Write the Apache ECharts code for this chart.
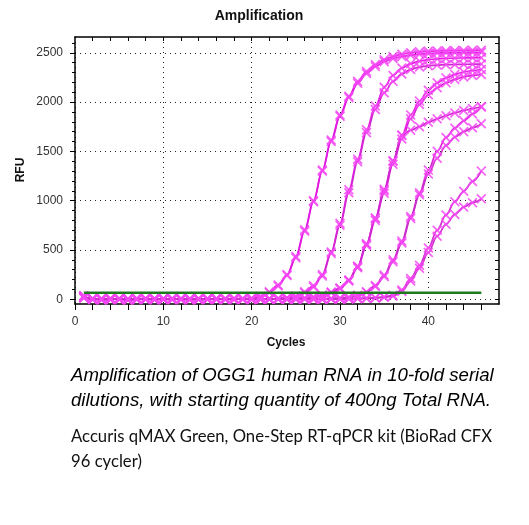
<!DOCTYPE html>
<html>
<head>
<meta charset="utf-8">
<script src="https://cdn.jsdelivr.net/npm/echarts@6/dist/echarts.min.js"></script>
<style>
html,body{margin:0;padding:0;background:#fff;}
#chart{width:529px;height:525px;}
</style>
</head>
<body>
<div id="chart"></div>
<script>
// ---- data ----
var cycles = [1,2,3,4,5,6,7,8,9,10,11,12,13,14,15,16,17,18,19,20,21,22,23,24,25,26,27,28,29,30,31,32,33,34,35,36,37,38,39,40,41,42,43,44,45,46];

var rfuA1 = [12,5,-3,8,2,-6,4,9,-2,3,7,-4,1,6,-1,5,3,8,6,
  12,30,75,145,250,435,705,1000,1310,1615,1870,2060,2210,2310,2380,2430,2462,2485,2500,2510,2515,2518,2520,2522,2523,2525,2526];
var rfuA2 = [28,3,-5,2,6,-2,1,4,-6,2,5,0,-3,4,2,-1,6,3,2,
  8,25,68,135,240,420,690,990,1300,1600,1855,2045,2190,2290,2360,2410,2442,2462,2476,2486,2493,2497,2500,2502,2503,2504,2505];
var rfuB1 = [20,4,-2,6,1,-7,3,8,-1,2,6,-3,0,5,-2,4,2,7,-1,3,5,2,9,16,
  32,75,138,250,480,770,1110,1420,1720,1960,2150,2270,2345,2390,2415,2430,2438,2443,2446,2448,2449,2450];
var rfuB2 = [30,-3,5,0,7,2,-4,3,6,-2,1,4,7,-1,3,0,5,-3,4,1,6,3,8,14,
  28,65,125,235,465,750,1080,1395,1690,1925,2095,2210,2285,2330,2355,2368,2375,2379,2381,2383,2384,2385];
var rfuC1 = [22,6,0,-4,5,3,8,-2,1,6,-5,3,2,7,0,-3,4,6,1,-2,5,3,0,6,9,14,24,
  40,70,115,195,335,560,820,1100,1400,1660,1870,2010,2120,2195,2245,2280,2305,2320,2330];
var rfuC2 = [35,2,-6,4,0,5,-1,3,7,-3,2,4,-2,1,6,3,-4,2,5,0,3,7,1,4,8,12,20,
  35,65,105,185,320,545,800,1075,1370,1625,1830,1975,2075,2145,2195,2230,2255,2270,2280];
var rfuC3 = [18,7,1,-3,4,-5,2,6,0,3,-2,5,1,-4,3,6,0,4,-1,2,6,1,4,2,7,11,22,
  40,72,112,192,332,562,825,1115,1405,1665,1715,1750,1795,1830,1862,1890,1915,1935,1955];
var rfuD1 = [25,3,-4,6,2,-1,5,0,-5,4,2,7,-2,1,3,-3,5,2,0,6,-1,3,4,-2,5,1,3,6,8,12,22,
  40,75,140,245,400,590,840,1080,1310,1500,1640,1735,1810,1880,1950];
var rfuD2 = [32,-2,4,1,-6,3,7,2,-1,5,0,3,6,-3,2,4,1,-2,5,3,0,4,6,-1,2,5,3,1,7,10,18,
  35,70,130,230,380,570,820,1060,1270,1430,1560,1645,1700,1740,1780];
var rfuE1 = [15,5,-3,2,7,-4,1,4,-2,6,3,0,-5,2,5,1,-1,4,6,-3,2,0,5,3,-2,4,1,6,2,5,3,8,10,15,24,
  40,95,210,345,520,700,855,990,1095,1195,1300];
var rfuE2 = [27,0,6,-2,3,1,-4,5,2,-1,4,7,0,-3,1,6,3,-2,4,1,5,-1,2,6,0,3,5,-2,4,1,6,7,11,14,20,
  32,80,185,315,475,640,760,860,935,980,1020];

var thresholdCycles = [1, 46];
var thresholdRFU = [67, 67];

var xMajorTicks = [0,10,20,30,40];
var xMinorTicks = [2,4,6,8,10,12,14,16,18,20,22,24,26,28,30,32,34,36,38,40,42,44,46];
var yMajorTicks = [0,500,1000,1500,2000,2500];
var yMinorTicks = [0,100,200,300,400,500,600,700,800,900,1000,1100,1200,1300,1400,1500,1600,1700,1800,1900,2000,2100,2200,2300,2400,2500,2600];

var allSeries = [rfuA1, rfuA2, rfuB1, rfuB2, rfuC1, rfuC2, rfuC3, rfuD1, rfuD2, rfuE1, rfuE2];
var lineTones = ['#e81ee8','#e01ae0','#e81ee8','#d028d0','#e81ee8','#d820d8','#d028d0','#d820d8','#c830c8','#d030d0','#c830c8'];

// ---- chart ----
var FONT = '"Liberation Sans", Arial, sans-serif';
var xPath = 'path://M0,1.2L1.2,0L5,3.8L8.8,0L10,1.2L6.2,5L10,8.8L8.8,10L5,6.2L1.2,10L0,8.8L3.8,5Z';

function pairs(vals){ return cycles.map(function(c,i){ return [c, vals[i]]; }); }

var series = allSeries.map(function(vals, k){
  return {
    type: 'line',
    xAxisIndex: 0, yAxisIndex: 0,
    data: pairs(vals),
    symbol: xPath,
    symbolSize: 10,
    showSymbol: true,
    smooth: 0.35,
    smoothMonotone: 'x',
    lineStyle: { color: lineTones[k], width: 1.7 },
    itemStyle: { color: 'rgba(245,70,245,0.85)' },
    emphasis: { disabled: true },
    silent: true,
    z: 2
  };
});
series.push({
  type: 'line',
  xAxisIndex: 0, yAxisIndex: 0,
  data: thresholdCycles.map(function(c,i){ return [c, thresholdRFU[i]]; }),
  symbol: 'none',
  lineStyle: { color: '#1f7a1f', width: 2.5 },
  silent: true,
  z: 5
});

var blackLine = { show: true, onZero: false, lineStyle: { color: '#000', width: 1.5 } };
var noLine = { show: false, onZero: false };
var gridDots = { show: true, lineStyle: { color: '#222', width: 1, type: [1, 4] } };
function plainNum(v){ return String(v); }

var option = {
  animation: false,
  backgroundColor: '#fff',
  grid: { left: 75, right: 30, top: 37, bottom: 221, containLabel: false },
  xAxis: [
    { type: 'value', position: 'bottom', min: 0, max: 48,
      axisLine: blackLine,
      axisTick: { show: true, inside: false, length: 6, customValues: xMajorTicks, lineStyle: { color: '#000' } },
      axisLabel: { show: true, customValues: xMajorTicks, formatter: plainNum, margin: 12, fontSize: 12, color: '#333', fontFamily: FONT },
      splitLine: gridDots },
    { type: 'value', position: 'bottom', min: 0, max: 48,
      axisLine: noLine,
      axisTick: { show: true, inside: false, length: 6, customValues: xMinorTicks, lineStyle: { color: '#000' } },
      axisLabel: { show: false }, splitLine: { show: false } },
    { type: 'value', position: 'top', min: 0, max: 48,
      axisLine: blackLine,
      axisTick: { show: true, inside: true, length: 4, customValues: xMinorTicks, lineStyle: { color: '#000' } },
      axisLabel: { show: false }, splitLine: { show: false } }
  ],
  yAxis: [
    { type: 'value', position: 'left', min: -48, max: 2660,
      axisLine: blackLine,
      axisTick: { show: true, inside: false, length: 5, customValues: yMajorTicks, lineStyle: { color: '#000' } },
      axisLabel: { show: true, customValues: yMajorTicks, formatter: plainNum, margin: 12, fontSize: 12, color: '#333', fontFamily: FONT },
      splitLine: gridDots },
    { type: 'value', position: 'left', min: -48, max: 2660,
      axisLine: noLine,
      axisTick: { show: true, inside: false, length: 3, customValues: yMinorTicks, lineStyle: { color: '#000' } },
      axisLabel: { show: false }, splitLine: { show: false } },
    { type: 'value', position: 'right', min: -48, max: 2660,
      axisLine: blackLine,
      axisTick: { show: true, inside: true, length: 4, customValues: yMinorTicks, lineStyle: { color: '#000' } },
      axisLabel: { show: false }, splitLine: { show: false } }
  ],
  graphic: [
    { type: 'text', x: 259, y: 16, style: { text: 'Amplification', font: 'bold 14px ' + FONT, fill: '#111', textAlign: 'center', textVerticalAlign: 'middle' } },
    { type: 'text', x: 21, y: 170, rotation: Math.PI / 2, style: { text: 'RFU', font: 'bold 12px ' + FONT, fill: '#111', textAlign: 'center', textVerticalAlign: 'middle' } },
    { type: 'text', x: 286, y: 343, style: { text: 'Cycles', font: 'bold 12px ' + FONT, fill: '#111', textAlign: 'center', textVerticalAlign: 'middle' } },
    { type: 'text', x: 71, y: 376, style: { text: 'Amplification of OGG1 human RNA in 10-fold serial', font: 'italic 18.6px ' + FONT, fill: '#000', textAlign: 'left', textVerticalAlign: 'middle' } },
    { type: 'text', x: 71, y: 401, style: { text: 'dilutions, with starting quantity of 400ng Total RNA.', font: 'italic 18.6px ' + FONT, fill: '#000', textAlign: 'left', textVerticalAlign: 'middle' } },
    { type: 'text', x: 71, y: 437, style: { text: 'Accuris qMAX Green, One-Step RT-qPCR kit (BioRad CFX', font: '16.7px Lato, "Open Sans", sans-serif', fill: '#111', textAlign: 'left', textVerticalAlign: 'middle' } },
    { type: 'text', x: 71, y: 462, style: { text: '96 cycler)', font: '16.7px Lato, "Open Sans", sans-serif', fill: '#111', textAlign: 'left', textVerticalAlign: 'middle' } }
  ],
  series: series
};

var chart = echarts.init(document.getElementById('chart'), null, { renderer: 'canvas' });
chart.setOption(option);
</script>
</body>
</html>
